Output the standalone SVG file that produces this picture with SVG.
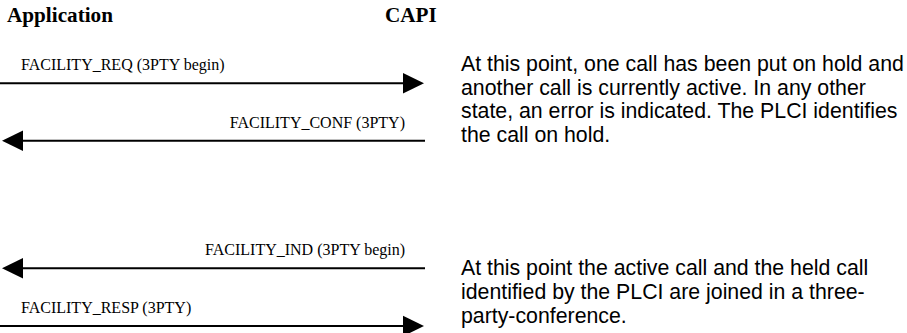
<svg xmlns="http://www.w3.org/2000/svg" width="907" height="333" viewBox="0 0 907 333">
<style>
.hdr{font-family:"Liberation Serif","Times New Roman",serif;font-weight:bold;font-size:21.2px;fill:#000}
.lbl{font-family:"Liberation Serif","Times New Roman",serif;font-size:16px;fill:#000}
.note{font-family:"Liberation Sans",Arial,sans-serif;font-size:21.3px;fill:#000}
.ln{stroke:#000;stroke-width:2;fill:none}
.hd{fill:#000;stroke:none}
</style>
<rect width="907" height="333" fill="#fff"/>
<g id="application"><text class="hdr" x="7" y="22">Application</text></g>
<g id="capi"><text class="hdr" x="385" y="22">CAPI</text></g>
<g id="connectors">
  <g id="msg-req">
    <line class="ln" x1="0" y1="83.3" x2="405" y2="83.3"/>
    <polygon class="hd" points="403,73 424,83.3 403,93.6"/>
    <text class="lbl" x="21" y="70">FACILITY_REQ (3PTY begin)</text>
  </g>
  <g id="msg-conf">
    <line class="ln" x1="425" y1="140.7" x2="21" y2="140.7"/>
    <polygon class="hd" points="23,130.4 2,140.7 23,151"/>
    <text class="lbl" x="405" y="128" text-anchor="end">FACILITY_CONF (3PTY)</text>
  </g>
  <g id="msg-ind">
    <line class="ln" x1="425" y1="268.3" x2="21" y2="268.3"/>
    <polygon class="hd" points="23,258 2,268.3 23,278.6"/>
    <text class="lbl" x="405" y="255" text-anchor="end">FACILITY_IND (3PTY begin)</text>
  </g>
  <g id="msg-resp">
    <line class="ln" x1="0" y1="326" x2="405" y2="326"/>
    <polygon class="hd" points="403,315.7 424,326 403,336.3"/>
    <text class="lbl" x="21" y="313">FACILITY_RESP (3PTY)</text>
  </g>
</g>
<g id="note-1">
  <text class="note" x="461" y="70.7">At this point, one call has been put on hold and</text>
  <text class="note" x="461" y="94.5">another call is currently active. In any other</text>
  <text class="note" x="461" y="118.3">state, an error is indicated. The PLCI identifies</text>
  <text class="note" x="461" y="142">the call on hold.</text>
</g>
<g id="note-2">
  <text class="note" x="461" y="275">At this point the active call and the held call</text>
  <text class="note" x="461" y="299.2">identified by the PLCI are joined in a three-</text>
  <text class="note" x="461" y="323.4">party-conference.</text>
</g>
</svg>
